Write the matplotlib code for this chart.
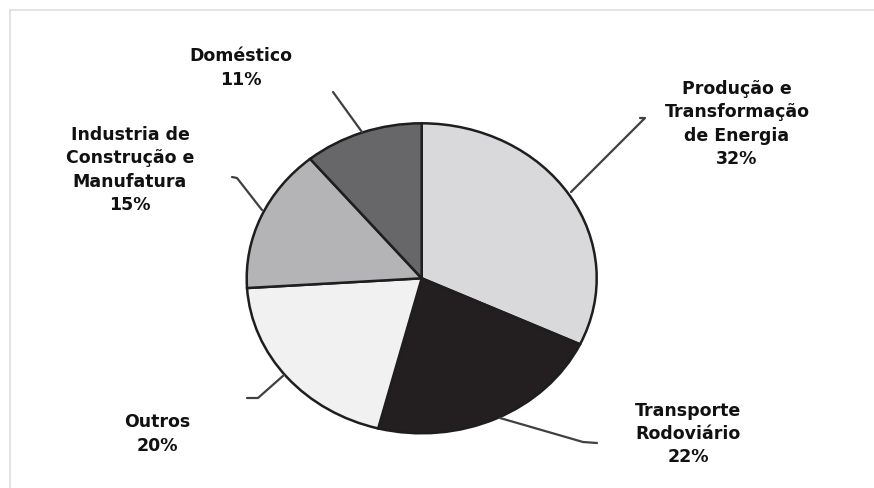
import matplotlib
matplotlib.use("Agg")
import matplotlib.pyplot as plt
from matplotlib.lines import Line2D

# Emission shares by sector (clockwise from 12 o'clock)
sectors = ["Produção e\nTransformação\nde Energia", "Transporte\nRodoviário", "Outros",
           "Industria de\nConstrução e\nManufatura", "Doméstico"]
shares = [32, 22, 20, 15, 11]
colors = ["#d9d9dc", "#231f20", "#f1f1f1", "#b4b4b6", "#67676a"]

W, H = 874, 488
fig = plt.figure(figsize=(W / 100, H / 100), dpi=100)
ax = fig.add_axes([0, 0, 1, 1])

# pixel geometry of the pie (slightly wider than tall)
cx, cy = 421.7, 278.3
rx, ry = 175.0, 155.0


def to_data(px, py):
    return (px - cx) / rx, (cy - py) / ry


ax.pie(shares, colors=colors, startangle=90, counterclock=False, radius=1.0,
       wedgeprops=dict(edgecolor="#1e1e1e", linewidth=1.8))
ax.set_aspect("auto")
ax.set_xlim(-cx / rx, (W - cx) / rx)
ax.set_ylim(-(H - cy) / ry, cy / ry)
ax.axis("off")

# leader lines (pixel coordinates of their vertices)
leaders = [
    [(571, 192), (645, 118), (640, 118)],
    [(500, 418), (583, 442), (597, 443)],
    [(284, 375), (258, 398), (247, 398)],
    [(262, 210), (237, 178), (232, 177)],
    [(362, 132), (333, 92)],
]
for pts in leaders:
    xs, ys = zip(*[to_data(*p) for p in pts])
    ax.add_line(Line2D(xs, ys, color="#404040", lw=1.6, solid_capstyle="round"))

# label centres in pixels
label_pos = [(737, 124), (688, 434), (157, 434), (130, 170), (241, 68)]
for name, val, (px, py) in zip(sectors, shares, label_pos):
    x, y = to_data(px, py)
    ax.text(x, y, f"{name}\n{val}%", ha="center", va="center", fontsize=12.5,
            fontweight="bold", family="DejaVu Sans", color="#111111", linespacing=1.38)

# thin frame along the top and left edges
fig.add_artist(Line2D([10 / W, 1], [1 - 10 / H, 1 - 10 / H], transform=fig.transFigure,
                      color="#dedede", lw=1.2))
fig.add_artist(Line2D([10 / W, 10 / W], [0, 1 - 10 / H], transform=fig.transFigure,
                      color="#dedede", lw=1.2))

fig.savefig("out.png", dpi=100, facecolor="white")
